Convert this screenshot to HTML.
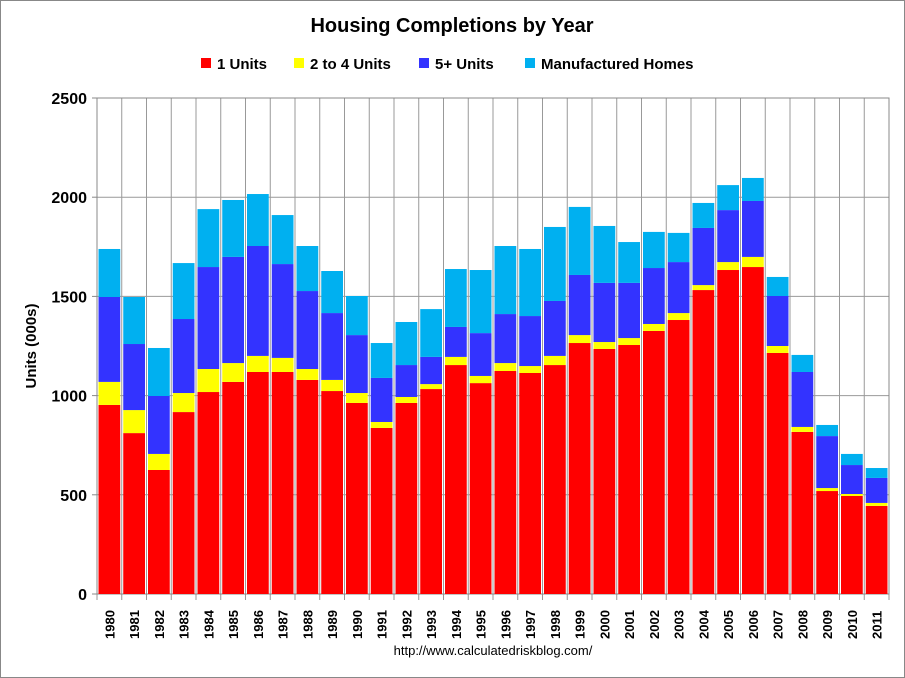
<!DOCTYPE html>
<html><head><meta charset="utf-8"><style>
html,body{margin:0;padding:0;background:#fff}
svg{display:block;font-family:"Liberation Sans",Arial,sans-serif}
</style></head><body>
<svg id="chart" width="905" height="678" viewBox="0 0 905 678" xmlns="http://www.w3.org/2000/svg">
<rect x="0.5" y="0.5" width="904" height="677" fill="#fff" stroke="#888"/>
<text x="452" y="32" text-anchor="middle" font-size="20" font-weight="bold">Housing Completions by Year</text>
<g font-size="15" font-weight="bold">
<g><rect x="201" y="58" width="10" height="10" fill="#ff0000"/><text x="217" y="69">1 Units</text></g>
<g><rect x="294" y="58" width="10" height="10" fill="#ffff00"/><text x="310" y="69">2 to 4 Units</text></g>
<g><rect x="419" y="58" width="10" height="10" fill="#3333ff"/><text x="435" y="69">5+ Units</text></g>
<g><rect x="525" y="58" width="10" height="10" fill="#00b0f0"/><text x="541" y="69">Manufactured Homes</text></g>
</g>
<text transform="translate(36,346) rotate(-90)" text-anchor="middle" font-size="15" font-weight="bold">Units (000s)</text>
<g id="plot"></g>
<text x="493" y="655" text-anchor="middle" font-size="13">http://www.calculatedriskblog.com/</text>
</svg>
<script>
const years = [1980,1981,1982,1983,1984,1985,1986,1987,1988,1989,1990,1991,1992,1993,1994,1995,1996,1997,1998,1999,2000,2001,2002,2003,2004,2005,2006,2007,2008,2009,2010,2011];
const oneUnits = [953,811,625,917,1018,1069,1119,1119,1079,1023,963,837,963,1033,1154,1063,1124,1114,1154,1265,1235,1255,1326,1381,1532,1633,1648,1215,817,519,494,444];
const twoToFourUnits = [116,116,81,96,116,95,81,71,55,56,50,30,30,25,41,36,40,35,46,40,35,35,35,35,25,40,51,35,25,15,10,15];
const fivePlusUnits = [428,333,292,373,514,535,554,473,393,337,292,222,161,137,151,216,247,252,277,303,298,278,282,257,288,262,282,252,277,262,146,126];
const manufactured = [242,237,242,282,292,287,262,247,227,212,197,176,217,241,292,318,343,338,373,343,287,206,182,147,126,126,116,96,86,56,56,50];
const yTicks = [0,500,1000,1500,2000,2500];

const NS="http://www.w3.org/2000/svg";
const L=97,R=889,T=98,B=594,yMax=2500;
const bw=(R-L)/years.length;
const y=v=>B-v/yMax*(B-T);
const x=i=>L+i*bw;
const g=document.getElementById('plot');
function mk(tag,attrs,parent){const e=document.createElementNS(NS,tag);for(const k in attrs)e.setAttribute(k,attrs[k]);(parent||g).appendChild(e);return e;}

const grid=mk('g',{});


yTicks.forEach(t=>{
  const ln=mk('line',{x1:L,x2:R,y1:y(t),y2:y(t),stroke:'#999','stroke-width':1},grid);
  
  
  const lab=mk('text',{x:L-10,y:y(t)+6,'text-anchor':'end','font-size':16,'font-weight':'bold'},grid);
  lab.textContent=t;
  
  
  mk('line',{x1:L-5,x2:L,y1:y(t),y2:y(t),stroke:'#888'},grid);
});
for(let i=0;i<=years.length;i++){
  const ln=mk('line',{x1:x(i),x2:x(i),y1:T,y2:B+6,stroke:'#999'},grid);
  
  
}
mk('rect',{x:L,y:T,width:R-L,height:B-T,fill:'none',stroke:'#888'},grid);

const series=[[oneUnits,'#ff0000','1-units'],[twoToFourUnits,'#ffff00','2-to-4-units'],[fivePlusUnits,'#3333ff','5-plus-units'],[manufactured,'#00b0f0','manufactured-homes']];
years.forEach((yr,i)=>{
  let base=0;
  series.forEach(([arr,col,nm])=>{
    const v=arr[i];
    const r=mk('rect',{x:x(i)+1.5,width:bw-3,y:y(base+v),height:y(base)-y(base+v),fill:col});
    
    
    base+=v;
  });
  const cx=x(i)+bw/2;
  const lab=mk('text',{transform:`translate(${cx+5},${B+45}) rotate(-90)`,'font-size':13,'font-weight':'bold'});
  lab.textContent=yr;
  
  
});
</script>
</body></html>
